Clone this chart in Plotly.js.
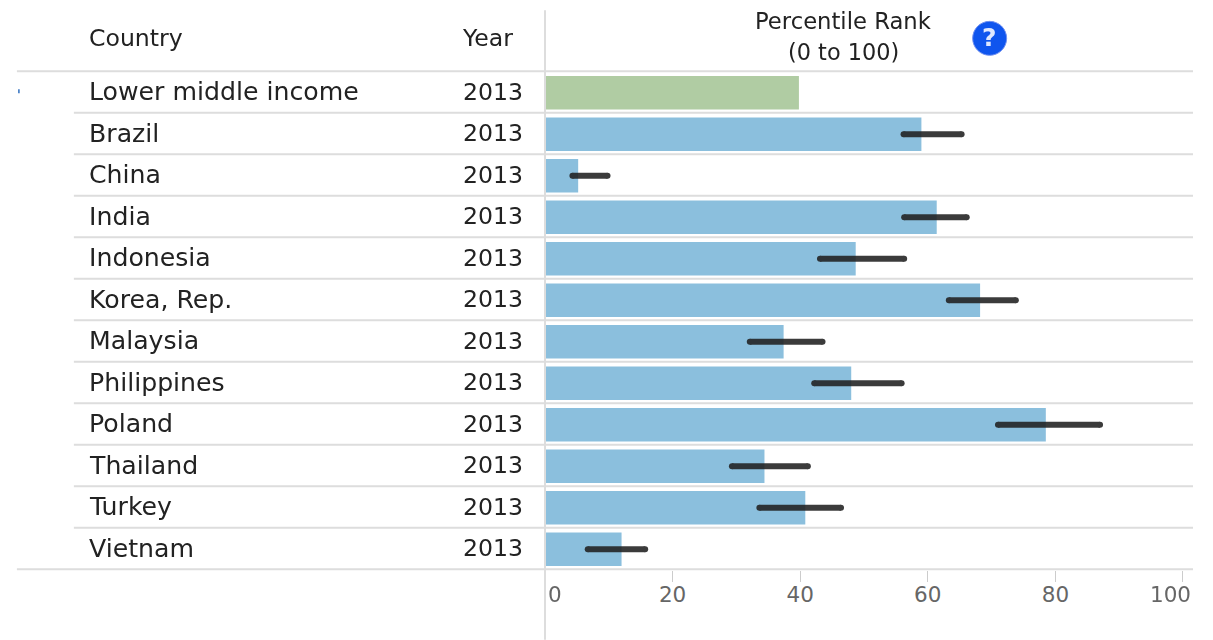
<!DOCTYPE html>
<html><head><meta charset="utf-8">
<script src="https://cdn.plot.ly/plotly-3.0.1.min.js"></script>
<style>html,body{margin:0;padding:0;background:#fff;overflow:hidden}</style></head>
<body><div id="chart" style="width:1213px;height:640px"></div>
<script>
const countries=["Lower middle income","Brazil","China","India","Indonesia","Korea, Rep.","Malaysia","Philippines","Poland","Thailand","Turkey","Vietnam"];
const years=[2013,2013,2013,2013,2013,2013,2013,2013,2013,2013,2013,2013];
const ranks=[39.8,59,5.2,61.4,48.7,68.2,37.4,48,78.5,34.4,40.8,12];
const lower=[null,56.2,4.3,56.3,43.1,63.3,32.1,42.2,71,29.3,33.6,6.7];
const upper=[null,65.3,9.8,66.1,56.3,73.8,43.5,55.9,87,41.2,46.4,15.7];
const tickValues=[0,20,40,60,80,100];
const tickLabels=["","20","40","60","80",""];
const barBlue="#8bbfdd", barGreen="#b0cca3", rule="#dddddd", ink="#222222";
const W=1213,H=640,L=544.5,R=1193,T=71,B=569.5,NUDGE=0.7;
const pT=T+NUDGE,pB=B+NUDGE;
const px=v=>(v-L)/(R-L), py=v=>(pB-v)/(pB-pT);
const font={family:"'DejaVu Sans',sans-serif",size:23.6,color:ink};

const bars={type:"bar",orientation:"h",y:countries,x:ranks,hoverinfo:"x+y",
  marker:{color:countries.map((c,i)=>i===0?barGreen:barBlue),line:{width:0}}};
const ex=[],ey=[];
countries.forEach((c,i)=>{if(lower[i]!==null){ex.push(lower[i],upper[i],null);ey.push(c,c,null);}});
const ranges={type:"scatter",mode:"lines+markers",x:ex,y:ey,opacity:0.88,hoverinfo:"skip",cliponaxis:false,
  line:{color:"#202020",width:6},marker:{color:"#202020",size:6}};

const shapes=[];
const hline=(y,x0)=>shapes.push({type:"line",xref:"paper",yref:"paper",layer:"below",x0:px(x0),x1:1,y0:py(y),y1:py(y),line:{color:rule,width:2}});
for(let i=0;i<=countries.length;i++){hline(T+i*(B-T)/countries.length,(i===0||i===countries.length)?16:73);}
shapes.push({type:"line",xref:"paper",yref:"paper",x0:0,x1:0,y0:py(10),y1:py(640),line:{color:rule,width:2}});
shapes.push({type:"circle",xref:"paper",yref:"paper",x0:px(972.5),x1:px(1006.5),y0:py(55),y1:py(21),fillcolor:"#0f55ee",line:{color:"#6f8ff0",width:1}});
shapes.push({type:"line",xref:"paper",yref:"paper",x0:px(18),x1:px(18),y0:py(89),y1:py(93),line:{color:"#2f6fc0",width:1.5}});

const ann=[];
const text=(s,x,y,anchor,f)=>ann.push({text:s,xref:"paper",yref:"paper",x:px(x),y:py(y),xanchor:anchor,yanchor:"middle",showarrow:false,borderpad:0,borderwidth:0,font:Object.assign({},font,f||{})});
text("Country",88,37.5,"left",{});
text("Year",461.5,37.5,"left",{});
text("Percentile Rank",843,21,"center",{size:22.7});
text("(0 to 100)",843,52,"center",{size:22.4});
text("<b>?</b>",989.5,37,"center",{size:25,color:"#dfe8ff",family:"'DejaVu Sans',sans-serif"});
text("0",555,595,"center",{size:21.5,color:"#666666"});
text("100",1170,595,"center",{size:21.5,color:"#666666"});
countries.forEach((c,i)=>{
  const y=T+(i+0.5)*(B-T)/countries.length;
  text(c,88,y-0.5,"left",{size:25.2});
  text(String(years[i]),462,y-0.5,"left",{});
});

Plotly.newPlot("chart",[bars,ranges],{
  width:W,height:H,showlegend:false,paper_bgcolor:"#fff",plot_bgcolor:"#fff",
  margin:{l:L,r:W-R,t:pT,b:H-pB,pad:0},bargap:0.19,
  xaxis:{range:[0,101.57],tickmode:"array",tickvals:tickValues,ticktext:tickLabels,ticks:"outside",ticklen:11,tickwidth:1,tickcolor:"#cccccc",
    showgrid:false,zeroline:false,showline:false,tickfont:{family:"'DejaVu Sans',sans-serif",size:21.5,color:"#666666"},ticklabelstandoff:-6},
  yaxis:{type:"category",categoryorder:"array",categoryarray:countries,range:[11.5,-0.5],showticklabels:false,ticks:"",showgrid:false,zeroline:false,showline:false},
  shapes:shapes,annotations:ann
},{displayModeBar:false,responsive:false});
</script></body></html>
